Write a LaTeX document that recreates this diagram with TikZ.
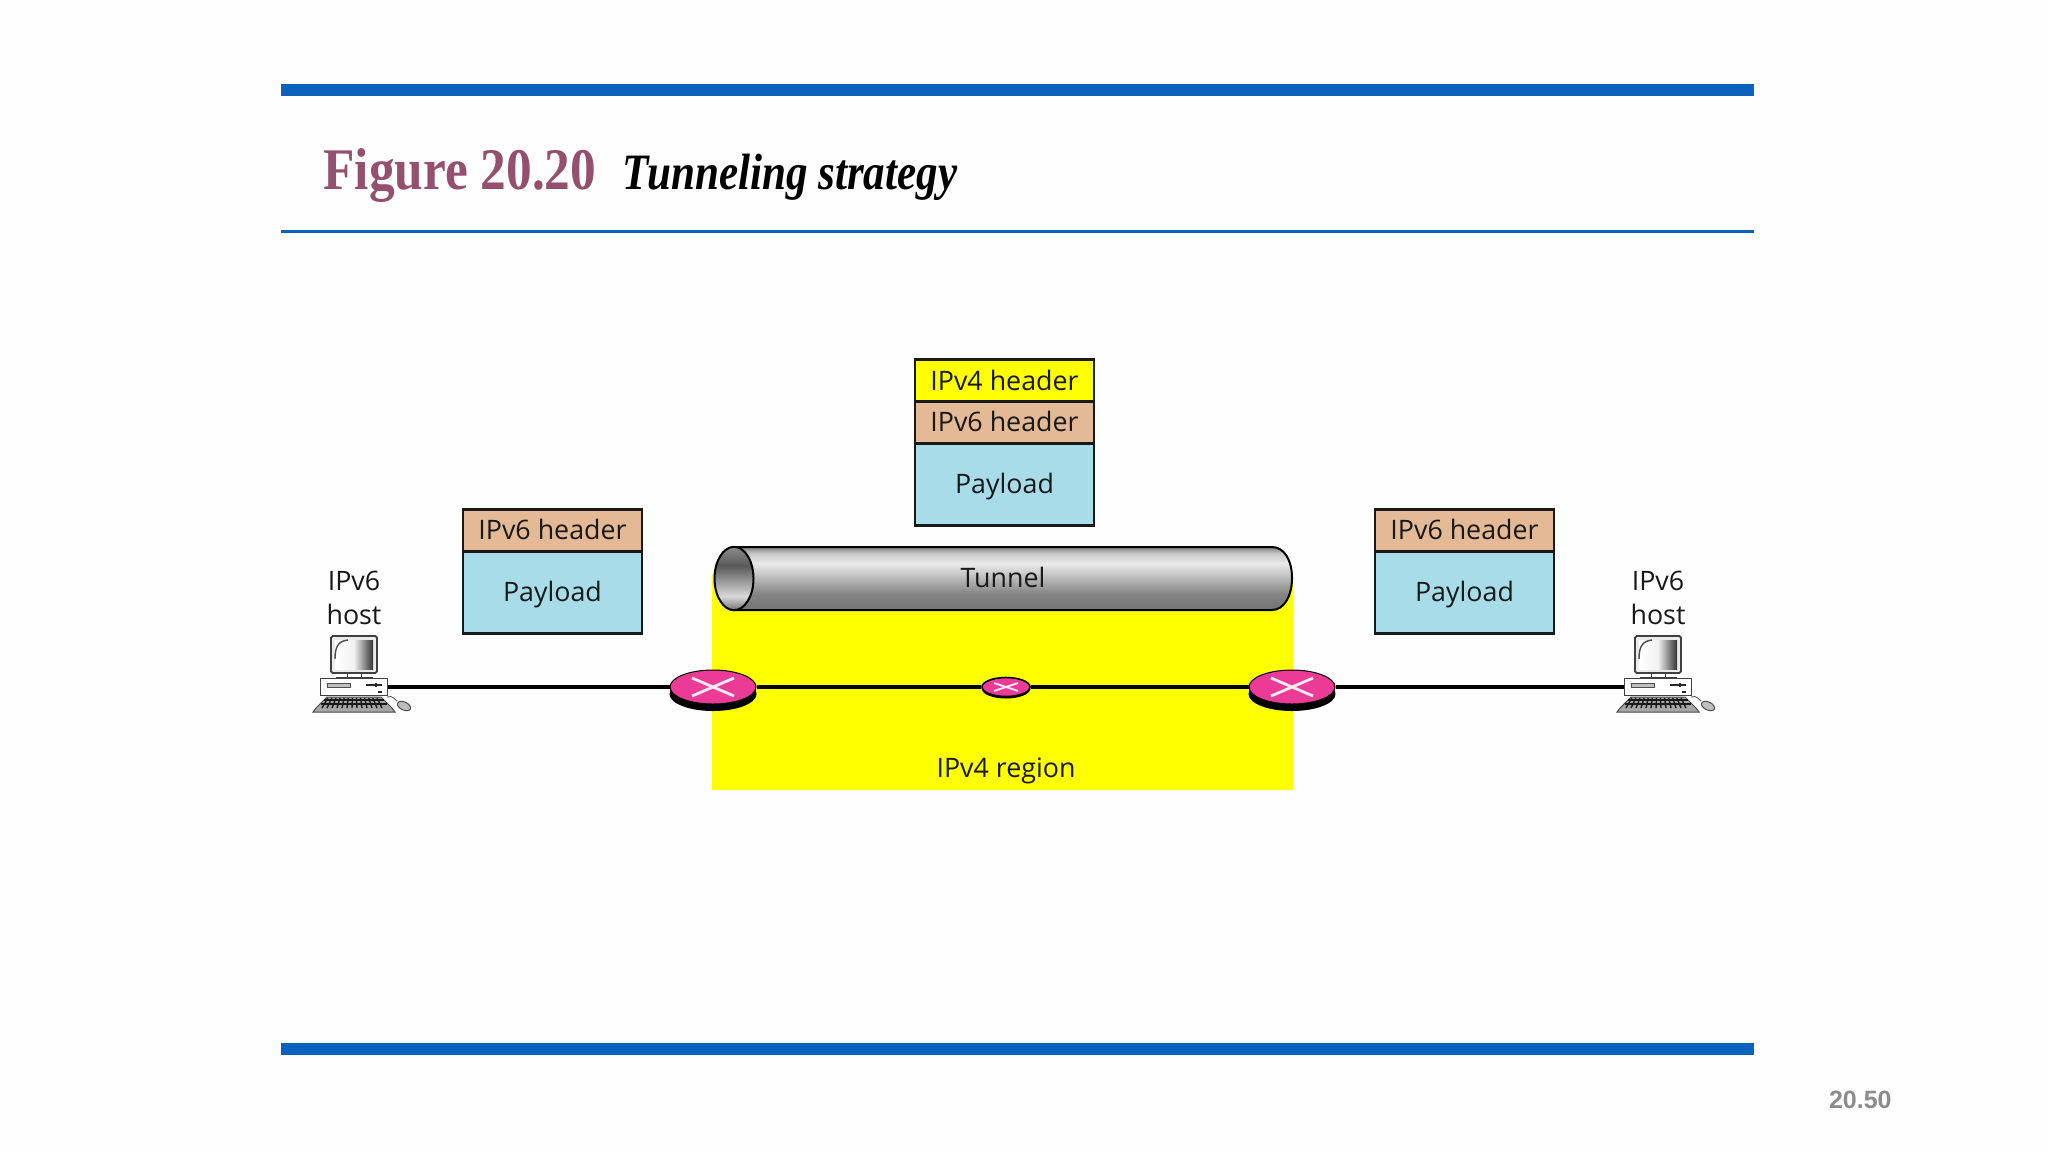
\documentclass[tikz,border=0pt]{standalone}
\usepackage{graphicx}
\usepackage{fontspec}
\setmainfont{Open Sans}
\newfontfamily\titleserif{Liberation Serif}
\newfontfamily\numsans{Liberation Sans}
\usetikzlibrary{shapes.geometric}
\definecolor{barblue}{HTML}{0A62BC}
\definecolor{figplum}{HTML}{96506F}
\definecolor{hdrtan}{HTML}{E3B996}
\definecolor{paycyan}{HTML}{A8DCE9}
\definecolor{regyel}{HTML}{FFFF00}
\definecolor{rtpink}{HTML}{EC3B96}
\definecolor{pagegray}{HTML}{8C8C8C}
\pgfdeclareverticalshading{tubeshade}{100bp}{
 color(0bp)=(black!55); color(25bp)=(black!55); color(38bp)=(black!48);
 color(62bp)=(black!8); color(70bp)=(black!22); color(75bp)=(black!50); color(100bp)=(black!50)}
\pgfdeclareverticalshading{mouthshade}{100bp}{
 color(0bp)=(black!55); color(25bp)=(black!55); color(36bp)=(black!15);
 color(60bp)=(black!65); color(75bp)=(black!45); color(100bp)=(black!45)}
\tikzset{
 x=0.5pt,y=-0.5pt,
 bar/.style={fill=barblue,draw=none},
 pktbox/.style={draw=black!90,line width=1.1pt,minimum width=89.5pt,inner sep=0pt,font=\fontsize{13.4}{15}\selectfont,text=black!90},
 hdr6/.style={pktbox,fill=hdrtan,minimum height=21pt,text height=9pt,text depth=0pt},
 hdr4/.style={pktbox,fill=regyel,minimum height=21pt},
 paybox/.style={pktbox,fill=paycyan,minimum height=41pt,text height=12.9pt,text depth=3.5pt},
 lbl/.style={font=\fontsize{13.4}{15}\selectfont,text=black!90,inner sep=0pt},
 wire/.style={draw=black,line width=1.6pt},
 rtbig/.style={ellipse,draw=black,line width=.5pt,fill=rtpink,minimum width=43pt,minimum height=17pt,inner sep=0pt},
 rtbigbase/.style={ellipse,fill=black,minimum width=43.5pt,minimum height=17pt,inner sep=0pt},
 rtsmall/.style={ellipse,draw=black,line width=.8pt,fill=rtpink,minimum width=24pt,minimum height=9.5pt,inner sep=0pt},
 rtsmallbase/.style={ellipse,fill=black,minimum width=24pt,minimum height=9.5pt,inner sep=0pt},
 xmark/.style={draw=white!90!rtpink,line width=1.4pt},
 hostcase/.style={draw=black!75,line width=.6pt,fill=white,minimum width=33.5pt,minimum height=8.5pt,inner sep=0pt},
 pc/.pic={
  % monitor
  \draw[black!75,line width=.9pt,fill=black!8,rounded corners=.8pt] (-23,-51) rectangle (23,-14);
  \shade[left color=white,right color=black!80,middle color=black!5] (-19,-47) rectangle (19,-18);
  \draw[black!70,line width=.7pt] (-19,-28) .. controls (-19,-40) and (-16,-46) .. (-6,-47);
  \draw[black!75,line width=.5pt,fill=white] (-7,-14) rectangle (7,-10);
  \draw[black!75,line width=.5pt,fill=black!30] (-18,-10) rectangle (18,-7);
  % case
  \node[hostcase] (case) at (0,0) {};
  \draw[black!70,line width=.4pt,fill=black!25] (-27,-4) rectangle (-4,0);
  \draw[black!85,line width=.8pt] (12,-2) -- (28,-2) (22,-4) -- (22,0);
  \fill[black!85] (24,4) rectangle (28,6);
  % keyboard
  \draw[black!70,line width=.5pt,fill=black!35] (-27,10) -- (27,10) -- (38,21) -- (41,25) -- (-41,25) -- (-38,21) -- cycle;
  \foreach \kx in {-32,-27,...,32} \draw[black!90,line width=.7pt] ({\kx*0.82},11) -- (\kx,21);
  \draw[black!90,line width=.7pt] (-30,13) -- (30,13) (-33,17) -- (33,17);
  % mouse
  \draw[black!70,line width=.4pt] (33,10) .. controls (39,8) and (40,12) .. (43,14);
  \draw[black!70,line width=.5pt,fill=black!25,rotate around={-25:(50,19)}] (50,19) circle[x radius=7,y radius=-4];
 }
}
\begin{document}
\begin{tikzpicture}
\useasboundingbox (0,0) rectangle (2048,1152);
\fill[white!99.5!black] (0,0) rectangle (2048,1152);
% slide frame
\path[bar] (281,84) rectangle (1754,96);
\path[bar] (281,229.5) rectangle (1754,232.5);
\path[bar] (281,1043) rectangle (1754,1055);
\node[anchor=base west,inner sep=0pt,text=figplum] (figttl) at (323,189) {\scalebox{.87}[1]{\titleserif\fontsize{29.5}{34}\selectfont\bfseries Figure 20.20}};
\node[anchor=base west,inner sep=0pt,text=black] (figname) at (622,189.5) {\scalebox{.845}[1]{\titleserif\fontsize{25.5}{30}\selectfont\bfseries\itshape Tunneling strategy}};
\node[anchor=base east,inner sep=0pt,text=pagegray,font=\numsans\bfseries\fontsize{12.5}{15}\selectfont] (pageno) at (1892,1108) {20.50};
% IPv4 region
\fill[regyel] (712,575) rectangle (1293,790);
\node[lbl] (region) at (1006,771) {IPv4 region};
% hosts
\pic (hl) at (354,687) {pc};
\pic (hr) at (1658,687) {pc};
\node[lbl,align=center,font=\fontsize{13.4}{17.2}\selectfont] (hlabL) at (354,598) {IPv6\\host};
\node[lbl,align=center,font=\fontsize{13.4}{17.2}\selectfont] (hlabR) at (1658,598) {IPv6\\host};
% routers
\node[rtbigbase] (rlb) at (713,694) {};
\node[rtbigbase] (rrb) at (1292,694) {};
\node[rtsmallbase] (rmb) at (1006,689) {};
\node[rtbig] (rl) at (713,687) {};
\node[rtbig] (rr) at (1292,687) {};
\node[rtsmall] (rm) at (1006,687) {};
\draw[xmark] (692,678) -- (734,696) (692,696) -- (734,678);
\draw[xmark] (1271,678) -- (1313,696) (1271,696) -- (1313,678);
\draw[xmark,line width=.9pt] (994,683) -- (1018,691) (994,691) -- (1018,683);
% links
\draw[wire] (hlcase) -- (rl);
\draw[wire] (rl) -- (rm);
\draw[wire] (rm) -- (rr);
\draw[wire] (rr) -- (hrcase);
% tunnel
\path[shading=tubeshade,draw=black,line width=1pt] (734,547) -- (1272,547) .. controls (1284,547) and (1292,560) .. (1292,578) .. controls (1292,596) and (1284,610) .. (1272,610) -- (734,610) -- cycle;
\node[ellipse,draw=black,line width=1pt,shading=mouthshade,minimum width=19.5pt,minimum height=31.7pt,inner sep=0pt] (mouth) at (734,578.5) {};
\node[lbl] (tunlab) at (1003,577) {Tunnel};
% left packet
\node[hdr6] (l6) at (552.5,530.5) {IPv6 header};
\node[paybox] (lp) at (552.5,592.5) {Payload};
% centre packet
\node[hdr4] (c4) at (1004.5,380.5) {IPv4 header};
\node[hdr6] (c6) at (1004.5,422.5) {IPv6 header};
\node[paybox] (cp) at (1004.5,484.5) {Payload};
% right packet
\node[hdr6] (r6) at (1464.5,530.5) {IPv6 header};
\node[paybox] (rp) at (1464.5,592.5) {Payload};
\end{tikzpicture}
\end{document}
